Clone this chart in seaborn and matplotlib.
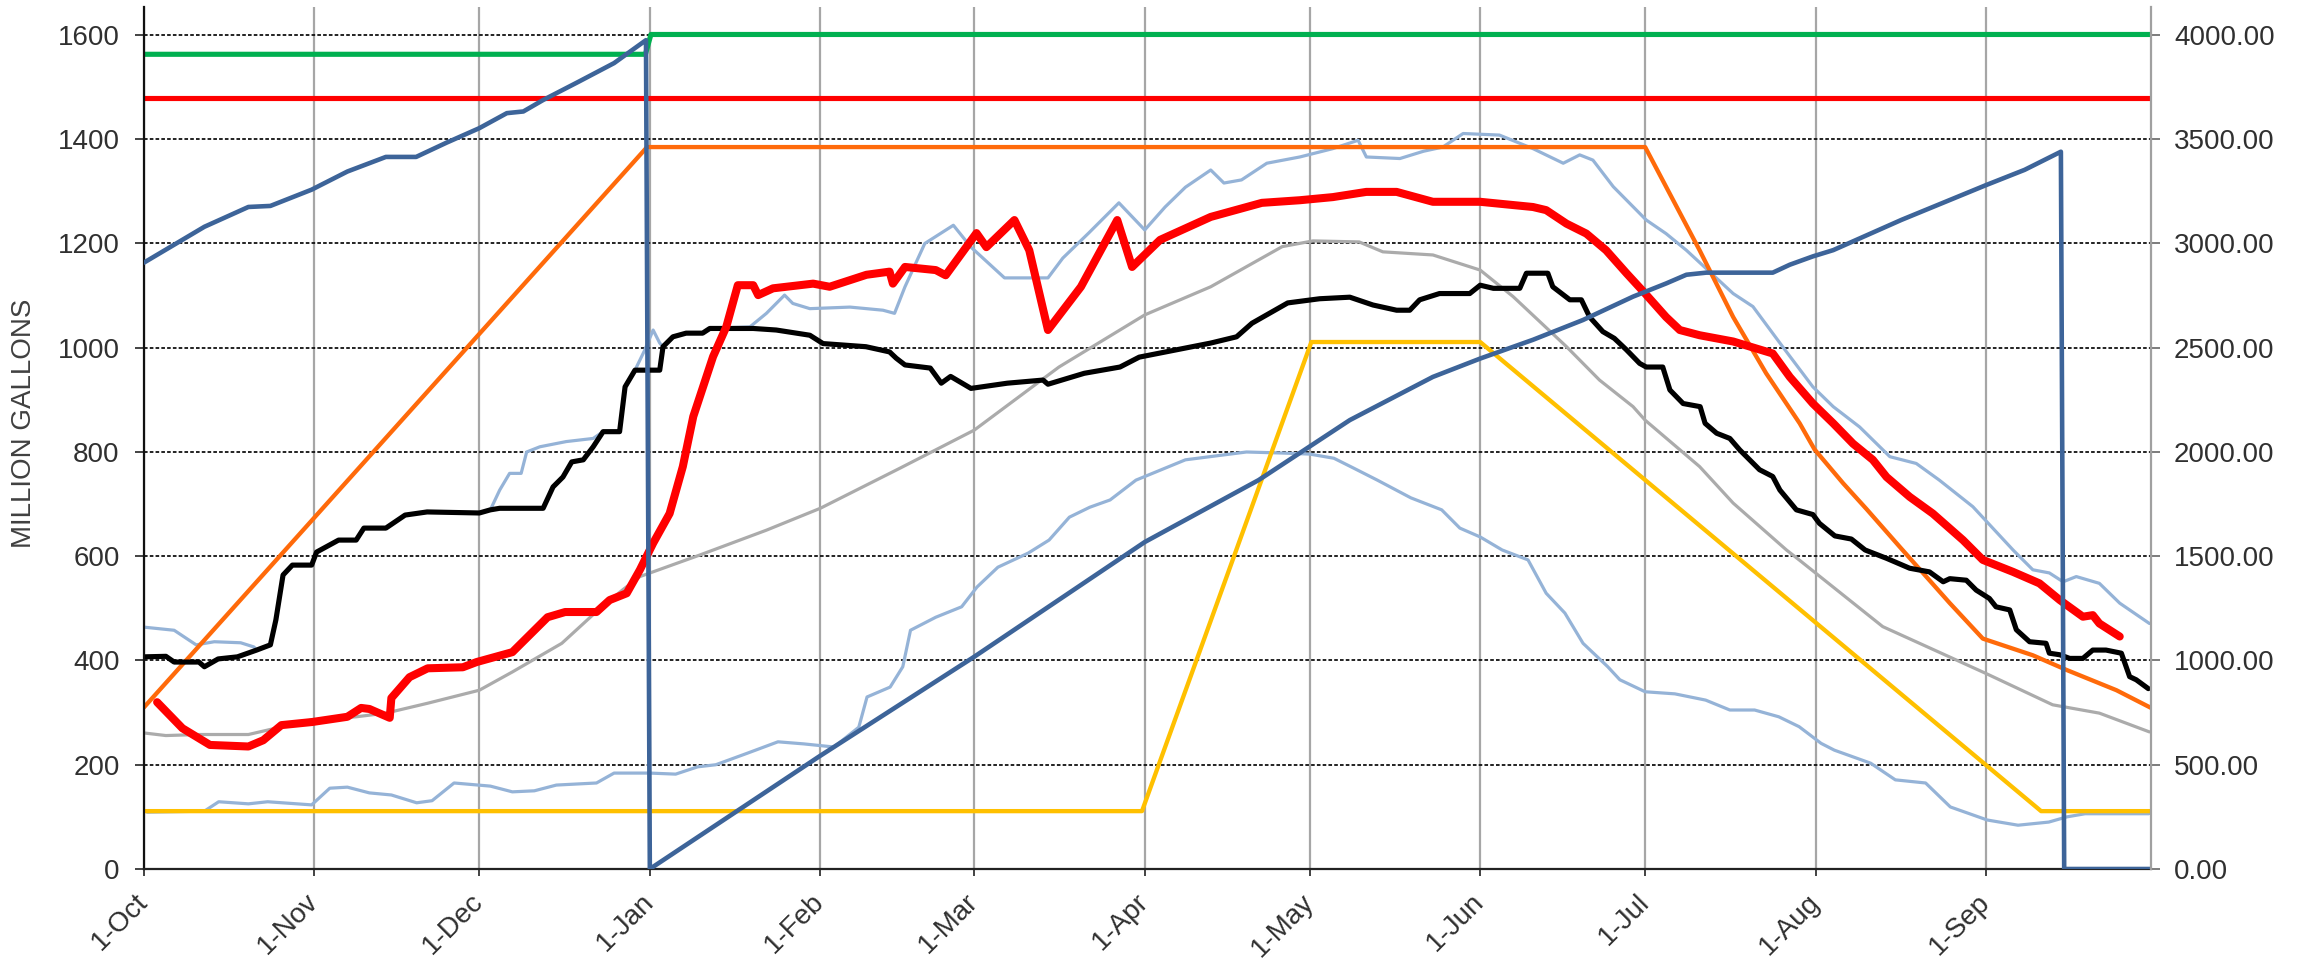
import numpy as np
import pandas as pd
import matplotlib
matplotlib.use("Agg")
import matplotlib.pyplot as plt
import matplotlib.dates as mdates
from matplotlib.ticker import FormatStrFormatter
import seaborn as sns

# ---------------- data (x = days after 1-Oct) ----------------
START = pd.Timestamp("2022-10-01")
month_ticks = pd.date_range(START, periods=12, freq="MS")

green_d = [0, 91.2, 92.2, 365]
green_v = [1563, 1563, 1601, 1601]

redline_d = [0, 365]
redline_v = [1480, 1480]

orange_d = [0, 91.5, 273, 276.8, 282.9, 289, 295, 301.1, 303.8, 309, 313.3, 319.3,
            328.4, 334.4, 343.5, 349.6, 358.7, 365]
orange_v = [310, 1385, 1385, 1309, 1187, 1059, 951, 855, 805, 740, 690, 618,
            510, 442, 410, 382, 343, 309]

gold_d = [0, 181.5, 212.3, 243, 345, 365]
gold_v = [111, 111, 1011, 1011, 111, 111]

# cumulative series on the right axis
blue_d = [0, 11, 19, 23, 30.5, 37, 44, 49.5, 55, 61, 66, 69, 72.6, 79, 85.5, 91.3, 92,
          122.7, 151, 182, 202.7, 219.3, 234.4, 243, 252.6, 261.7, 270.8, 276.8, 280.5,
          284.1, 296.2, 299.3, 303.5, 307.2, 319.6, 335, 342, 348.6, 349.2, 365]
blue_v = [2908, 3080, 3175, 3180, 3258, 3345, 3415, 3415, 3483, 3553, 3625, 3633, 3688,
          3775, 3865, 3975, 0, 538, 1018, 1568, 1865, 2153, 2360, 2448, 2538, 2633, 2745,
          2808, 2850, 2860, 2860, 2898, 2938, 2968, 3113, 3280, 3353, 3440, 0, 0]

black_d = [0, 4, 5.5, 10, 11, 13.5, 17, 20.5, 23, 24, 25.3, 27, 30.5, 31.4, 35.4, 38.6, 40,
           44, 47.5, 51.5, 61, 63, 64.7, 72.6, 74.4, 76.2, 77.8, 79.9, 81.7, 83.5, 86.5,
           87.5, 89.3, 93.8, 94.4, 96.2, 98.6, 101.6, 102.9, 110.8, 115, 121.1, 123.5,
           131.3, 135.6, 136.8, 138.4, 143, 145, 146.7, 150.4, 157, 163.5, 164.4, 171,
           177.5, 181, 194, 198.7, 201.5, 208, 213.8, 219.3, 223.5, 227.8, 230.2, 232,
           235.6, 241.1, 243, 245.4, 250.2, 251.4, 255.3, 256.2, 259.3, 261.4, 262.9,
           265.3, 267.4, 269.6, 272, 273.2, 276.2, 277.5, 279.9, 283, 283.9, 286, 288.4,
           290.2, 293.8, 296.2, 297.5, 300.5, 303.5, 304.7, 307.5, 310.5, 313, 316.9,
           321.1, 324.7, 327.2, 328.4, 331.4, 333.2, 335.6, 336.8, 339.3, 340.5, 342.9,
           345.9, 346.5, 348.4, 350.2, 352.6, 354.4, 356.8, 359.6, 361.1, 362.3, 364.5]
black_v = [407, 408, 397, 397, 388, 403, 407, 420, 430, 478, 564, 583, 583, 608, 631, 631,
           654, 654, 679, 685, 683, 689, 692, 692, 733, 752, 781, 785, 810, 839, 839, 925,
           957, 957, 1002, 1021, 1028, 1028, 1037, 1037, 1034, 1024, 1008, 1002, 992, 980,
           967, 961, 932, 945, 922, 932, 938, 930, 951, 963, 982, 1009, 1021, 1047, 1086,
           1094, 1097, 1082, 1072, 1072, 1092, 1104, 1104, 1120, 1114, 1114, 1143, 1143,
           1117, 1092, 1092, 1059, 1031, 1018, 996, 970, 963, 963, 919, 893, 887, 855, 836,
           826, 804, 766, 753, 727, 689, 680, 663, 639, 633, 612, 596, 577, 570, 551, 557,
           554, 535, 519, 503, 497, 459, 436, 433, 414, 411, 404, 404, 420, 420, 414, 369,
           363, 346]

red_d = [2.4, 7, 12, 19, 21.7, 25, 30.6, 37, 39.5, 41, 44.7, 45, 48.3, 51.6, 58, 60.5, 67,
         73.4, 76.6, 82.3, 84.7, 87.8, 90.2, 92.6, 95.6, 98, 99.9, 103.5, 105.9, 108,
         110.8, 111.7, 114.4, 121.7, 124.7, 131.4, 135.6, 136.2, 138.4, 144, 145.8, 151.4,
         153.2, 158.3, 161, 164.4, 170.4, 177, 179.7, 184.8, 194, 203.3, 210.2, 216.2,
         222.3, 227.8, 234.4, 243, 252.6, 255, 258.7, 262.3, 265.9, 269.6, 273, 276.8,
         279.3, 282.9, 289, 296.2, 299.3, 303.5, 307.2, 310.8, 314.4, 316.9, 321.1, 325.3,
         330.8, 334.4, 339.9, 344.7, 348.4, 352.6, 354.4, 355.6, 359.3]
red_v = [320, 270, 238, 235, 247, 276, 282, 292, 309, 307, 290, 328, 368, 385, 387, 397,
         416, 483, 493, 493, 516, 529, 574, 625, 682, 772, 868, 983, 1040, 1120, 1120,
         1101, 1114, 1123, 1117, 1140, 1146, 1123, 1155, 1149, 1139, 1220, 1193, 1245,
         1187, 1034, 1117, 1245, 1155, 1207, 1251, 1278, 1283, 1289, 1299, 1299, 1280,
         1280, 1270, 1264, 1238, 1219, 1187, 1143, 1104, 1059, 1034, 1024, 1012, 989, 944,
         893, 855, 816, 785, 752, 714, 682, 631, 593, 570, 548, 516, 484, 487, 471, 446]

hi_d = [0, 5.5, 9.5, 12.8, 17.6, 20, 20.5, 23, 24, 25.3, 27, 30.5, 31.4, 35.4, 38.6, 40, 44,
        47.5, 51.5, 61, 63, 64.7, 66.5, 68.6, 69.6, 72, 76.8, 81.7, 83.5, 86.5, 87.5, 89.3,
        91.1, 92.6, 93.8, 94.4, 96.2, 98.6, 101.6, 102.9, 110.2, 113.2, 116.5, 118, 121.1,
        128.4, 134.4, 136.5, 138.4, 142, 147.2, 150.4, 156.5, 164.4, 167.1, 171.8, 177.3,
        182, 185.7, 189.4, 194, 196.4, 199.6, 204.2, 210.2, 216.2, 220.8, 222.3, 228.4,
        232.7, 236.2, 239.9, 246.5, 252.6, 258.1, 261.1, 263.5, 267.2, 273.2, 276.8, 280.5,
        289, 292.6, 298, 303.5, 307.2, 312, 317.5, 322.3, 326.5, 332.6, 339.9, 343.5,
        346.5, 349, 351.4, 355.6, 359.3, 364.7]
hi_v = [464, 458, 430, 436, 434, 426, 420, 430, 478, 564, 583, 583, 608, 631, 631, 654,
        654, 679, 685, 683, 689, 727, 759, 759, 800, 810, 820, 826, 839, 839, 925, 957,
        996, 1034, 1009, 1002, 1021, 1028, 1028, 1037, 1040, 1066, 1101, 1085, 1075, 1078,
        1072, 1066, 1117, 1200, 1235, 1193, 1134, 1134, 1172, 1220, 1278, 1226, 1270, 1308,
        1341, 1316, 1322, 1354, 1366, 1382, 1398, 1366, 1363, 1377, 1385, 1411, 1408, 1382,
        1354, 1370, 1360, 1309, 1245, 1219, 1187, 1104, 1079, 1002, 925, 887, 848, 791,
        778, 746, 695, 612, 574, 568, 551, 561, 548, 510, 471]

lo_d = [0.6, 11, 13.6, 19, 22.5, 30.5, 33.8, 37, 41, 45, 49.6, 52.4, 56.4, 63, 67, 71, 75,
        82.3, 85.5, 92, 96.7, 100.7, 104, 109.7, 115.3, 120, 125.5, 130, 131.5, 135.7, 138,
        139.4, 144, 148.7, 151.5, 155.3, 160.8, 164.6, 168.3, 172, 175.7, 180.4, 189.4,
        200.5, 207, 212, 216.4, 220, 224.3, 230.4, 236, 239.3, 243, 247, 251.7, 255, 258.4,
        261.7, 266.2, 268.4, 273, 278.4, 284, 288.4, 292.9, 297.3, 301, 305, 307.4, 314,
        318.5, 324, 328.5, 335.2, 340.8, 346.4, 349.7, 353, 364.6]
lo_v = [109, 111, 129, 125, 129, 123, 155, 157, 146, 142, 127, 131, 165, 159, 148, 150, 161,
        165, 184, 184, 182, 196, 200, 222, 244, 240, 234, 272, 330, 349, 388, 458, 483, 503,
        541, 579, 606, 631, 675, 694, 708, 746, 785, 800, 798, 796, 788, 769, 746, 712, 689,
        654, 637, 612, 593, 529, 491, 433, 388, 363, 340, 336, 324, 305, 305, 292, 273, 241,
        228, 203, 171, 165, 119, 94, 84, 90, 100, 106, 106]

gray_d = [0, 4, 10, 19, 30.5, 38.6, 44, 51.6, 61, 67, 76, 82, 87, 90.2, 101, 113.2, 123,
          137.5, 151, 166.4, 182, 194, 207, 212.6, 221, 225.3, 234.4, 243, 249, 258.7,
          264.7, 270.8, 273, 282.9, 289, 298.7, 301, 316.2, 335, 347.1, 355.6, 364.7]
gray_v = [261, 256, 258, 258, 286, 292, 299, 318, 343, 378, 433, 491, 535, 561, 602, 650,
          692, 769, 842, 963, 1063, 1117, 1194, 1205, 1203, 1184, 1178, 1149, 1098, 1002,
          938, 887, 861, 772, 702, 612, 593, 465, 375, 315, 299, 263]

left_ticks = list(range(0, 1601, 200))
right_ticks = list(range(0, 4001, 500))


def to_dates(days):
    return START + pd.to_timedelta(np.asarray(days, dtype=float), unit="D")


# ---------------- style ----------------
sns.set_style("white")
plt.rcParams["font.family"] = ["Liberation Sans", "DejaVu Sans"]

fig, ax = plt.subplots(figsize=(23.1, 9.6), dpi=100)
fig.subplots_adjust(left=0.0623, right=0.9312, bottom=0.0948, top=0.9927)

common = dict(ax=ax, sort=False, estimator=None, legend=False)
series = [
    (gray_d, gray_v, "#ABABAB", 2.3),
    (lo_d, lo_v, "#95B3D7", 2.3),
    (hi_d, hi_v, "#95B3D7", 2.3),
    (gold_d, gold_v, "#FFC000", 3.1),
    (orange_d, orange_v, "#FF6A0A", 3.1),
    (black_d, black_v, "#000000", 3.7),
    (red_d, red_v, "#FF0000", 5.8),
    (redline_d, redline_v, "#FF0000", 3.7),
    (green_d, green_v, "#00B050", 3.7),
]
for d, v, c, lw in series:
    sns.lineplot(x=to_dates(d), y=v, color=c, linewidth=lw,
                 solid_joinstyle="round", **common)

ax2 = ax.twinx()
sns.lineplot(x=to_dates(blue_d), y=blue_v, ax=ax2, sort=False, estimator=None,
             legend=False, color="#3D6499", linewidth=3.3)

# ---------------- axes ----------------
xmin, xmax = START, START + pd.Timedelta(days=365)
ax.set_xlim(xmin, xmax)
ax.set_ylim(0, 1653.7)
ax2.set_ylim(0, 4134)

ax.set_yticks(left_ticks)
ax2.set_yticks(right_ticks)
ax2.yaxis.set_major_formatter(FormatStrFormatter("%.2f"))

ax.set_xticks(month_ticks)
ax.xaxis.set_major_formatter(mdates.DateFormatter("%-d-%b"))

ax.set_axisbelow(True)
ax.yaxis.grid(True, linestyle=(0, (2.0, 1.2)), color="#111111", linewidth=1.3)
ax.xaxis.grid(True, linestyle="-", color="#A6A6A6", linewidth=1.6)
ax2.grid(False)

for a in (ax, ax2):
    a.spines["top"].set_visible(False)
ax.spines["right"].set_visible(False)
ax2.spines["left"].set_visible(False)
ax2.spines["bottom"].set_visible(False)
ax.spines["left"].set_color("#111111")
ax.spines["left"].set_linewidth(1.6)
ax.spines["bottom"].set_color("#222222")
ax.spines["bottom"].set_linewidth(1.6)
ax2.spines["right"].set_color("#A0A0A0")
ax2.spines["right"].set_linewidth(1.6)

tc = "#303030"
ax.tick_params(axis="y", direction="out", length=6.5, width=1.2, pad=11,
               labelsize=20, colors="#222222", labelcolor=tc, left=True)
ax2.tick_params(axis="y", direction="out", length=6.5, width=1.2, pad=10,
                labelsize=20, colors="#666666", labelcolor=tc, right=True)
ax.tick_params(axis="x", direction="out", length=5, width=1.2, pad=16,
               labelsize=20, colors="#222222", labelcolor=tc, bottom=True)
for lbl in ax.get_xticklabels():
    lbl.set_rotation(45)
    lbl.set_ha("right")
    lbl.set_va("center")
    lbl.set_rotation_mode("anchor")

ax.set_xlabel("")
ax.set_ylabel("MILLION GALLONS", fontsize=20, color="#404040")
ax.yaxis.set_label_coords(-0.0535, 0.517)
ax2.set_ylabel("")

fig.savefig("out.png", dpi=100)
